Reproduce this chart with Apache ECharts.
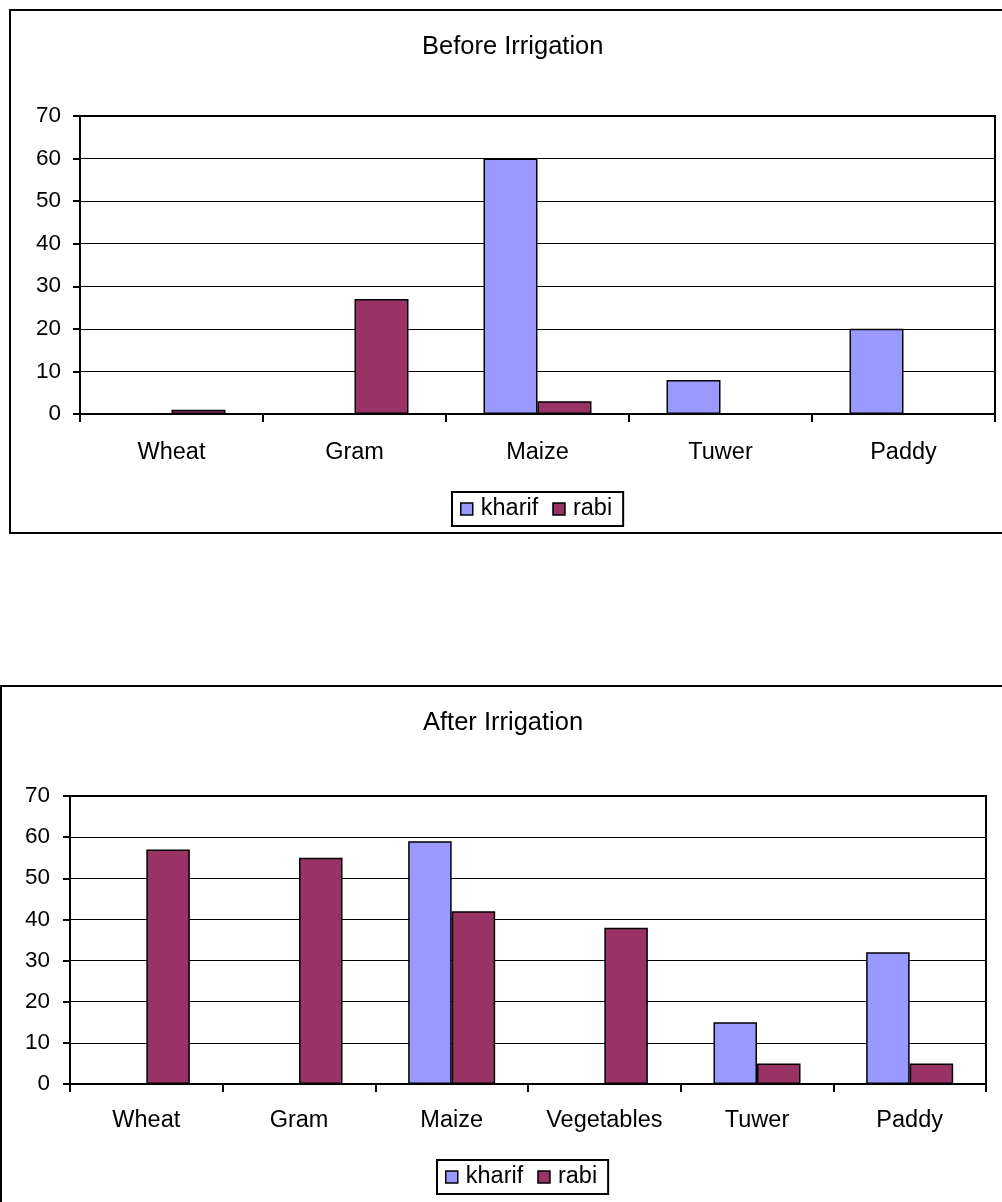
<!DOCTYPE html>
<html>
<head>
<meta charset="utf-8">
<script src="https://cdn.jsdelivr.net/npm/echarts@6/dist/echarts.min.js"></script>
<style>
html,body{margin:0;padding:0;background:#fff;}
#c{width:1002px;height:1202px;}
</style>
</head>
<body>
<div id="c"></div>
<script>
var seriesNames = ['kharif', 'rabi'];
var beforeCategories = ['Wheat', 'Gram', 'Maize', 'Tuwer', 'Paddy'];
var beforeKharif = [0, 0, 60, 8, 20];
var beforeRabi = [1, 27, 3, 0, 0];
var afterCategories = ['Wheat', 'Gram', 'Maize', 'Vegetables', 'Tuwer', 'Paddy'];
var afterKharif = [0, 0, 59, 0, 15, 32];
var afterRabi = [57, 55, 42, 38, 5, 5];
var yTicks = [0, 10, 20, 30, 40, 50, 60, 70];

var FONT = '"Liberation Sans", Arial, sans-serif';
var colors = ['#9999FF', '#993366'];

function xAxis(gi, cats, margin) {
  return {
    type: 'category', gridIndex: gi, data: cats,
    axisLine: {lineStyle: {color: '#000', width: 2}},
    axisTick: {show: true, length: 8, lineStyle: {color: '#000', width: 2}},
    axisLabel: {color: '#000', fontSize: 23.5, fontFamily: FONT, margin: margin}
  };
}
function yAxis(gi, margin) {
  return {
    type: 'value', gridIndex: gi, min: yTicks[0], max: yTicks[yTicks.length - 1], interval: 10,
    axisLine: {show: true, lineStyle: {color: '#000', width: 2}},
    axisTick: {show: true, length: 7, lineStyle: {color: '#000', width: 2}},
    axisLabel: {color: '#000', fontSize: 22.5, fontFamily: FONT, margin: margin},
    splitLine: {show: true, lineStyle: {color: '#000', width: 1}}
  };
}
function bar(name, data, idx, gi, gapPct) {
  return {
    type: 'bar', name: name, data: data, xAxisIndex: gi, yAxisIndex: gi,
    barGap: '0%', barCategoryGap: gapPct,
    itemStyle: {color: colors[idx], borderColor: '#000', borderWidth: 1.5},
    animation: false
  };
}
function legend(gi, left, top) {
  return {
    data: seriesNames, left: left, top: top,
    orient: 'horizontal',
    borderColor: '#000', borderWidth: 2,
    padding: [5, 11, 5, 8], itemGap: 14,
    itemWidth: 12, itemHeight: 12, icon: 'rect',
    itemStyle: {borderColor: '#000', borderWidth: 1.5},
    textStyle: {color: '#000', fontSize: 23.5, fontFamily: FONT, padding: [0, 0, 0, 3]},
    selectedMode: false
  };
}

var chart = echarts.init(document.getElementById('c'), null, {renderer: 'canvas'});
chart.setOption({
  backgroundColor: '#fff',
  animation: false,
  graphic: [
    {type: 'rect', shape: {x: 10, y: 10, width: 1020, height: 523}, style: {fill: 'none', stroke: '#000', lineWidth: 2}, z: -1},
    {type: 'rect', shape: {x: 1, y: 686, width: 1030, height: 560}, style: {fill: 'none', stroke: '#000', lineWidth: 2}, z: -1},
    {type: 'text', left: 422, top: 34, style: {text: 'Before Irrigation', fontSize: 25.5, fontFamily: FONT, fill: '#000'}},
    {type: 'text', left: 423, top: 710, style: {text: 'After Irrigation', fontSize: 25.5, fontFamily: FONT, fill: '#000'}}
  ],
  grid: [
    {left: 80, top: 116, right: 7, bottom: 1202 - 414, show: true, borderColor: '#000', borderWidth: 2, backgroundColor: 'transparent'},
    {left: 70, top: 796, right: 16, bottom: 1202 - 1084, show: true, borderColor: '#000', borderWidth: 2, backgroundColor: 'transparent'}
  ],
  xAxis: [xAxis(0, beforeCategories, 27), xAxis(1, afterCategories, 25)],
  yAxis: [yAxis(0, 19), yAxis(1, 20)],
  legend: [legend(0, 452, 492), legend(1, 437, 1160)],
  series: [
    bar(seriesNames[0], beforeKharif, 0, 0, '41%'),
    bar(seriesNames[1], beforeRabi, 1, 0, '41%'),
    bar(seriesNames[0], afterKharif, 0, 1, '43%'),
    bar(seriesNames[1], afterRabi, 1, 1, '43%')
  ]
});
</script>
</body>
</html>
